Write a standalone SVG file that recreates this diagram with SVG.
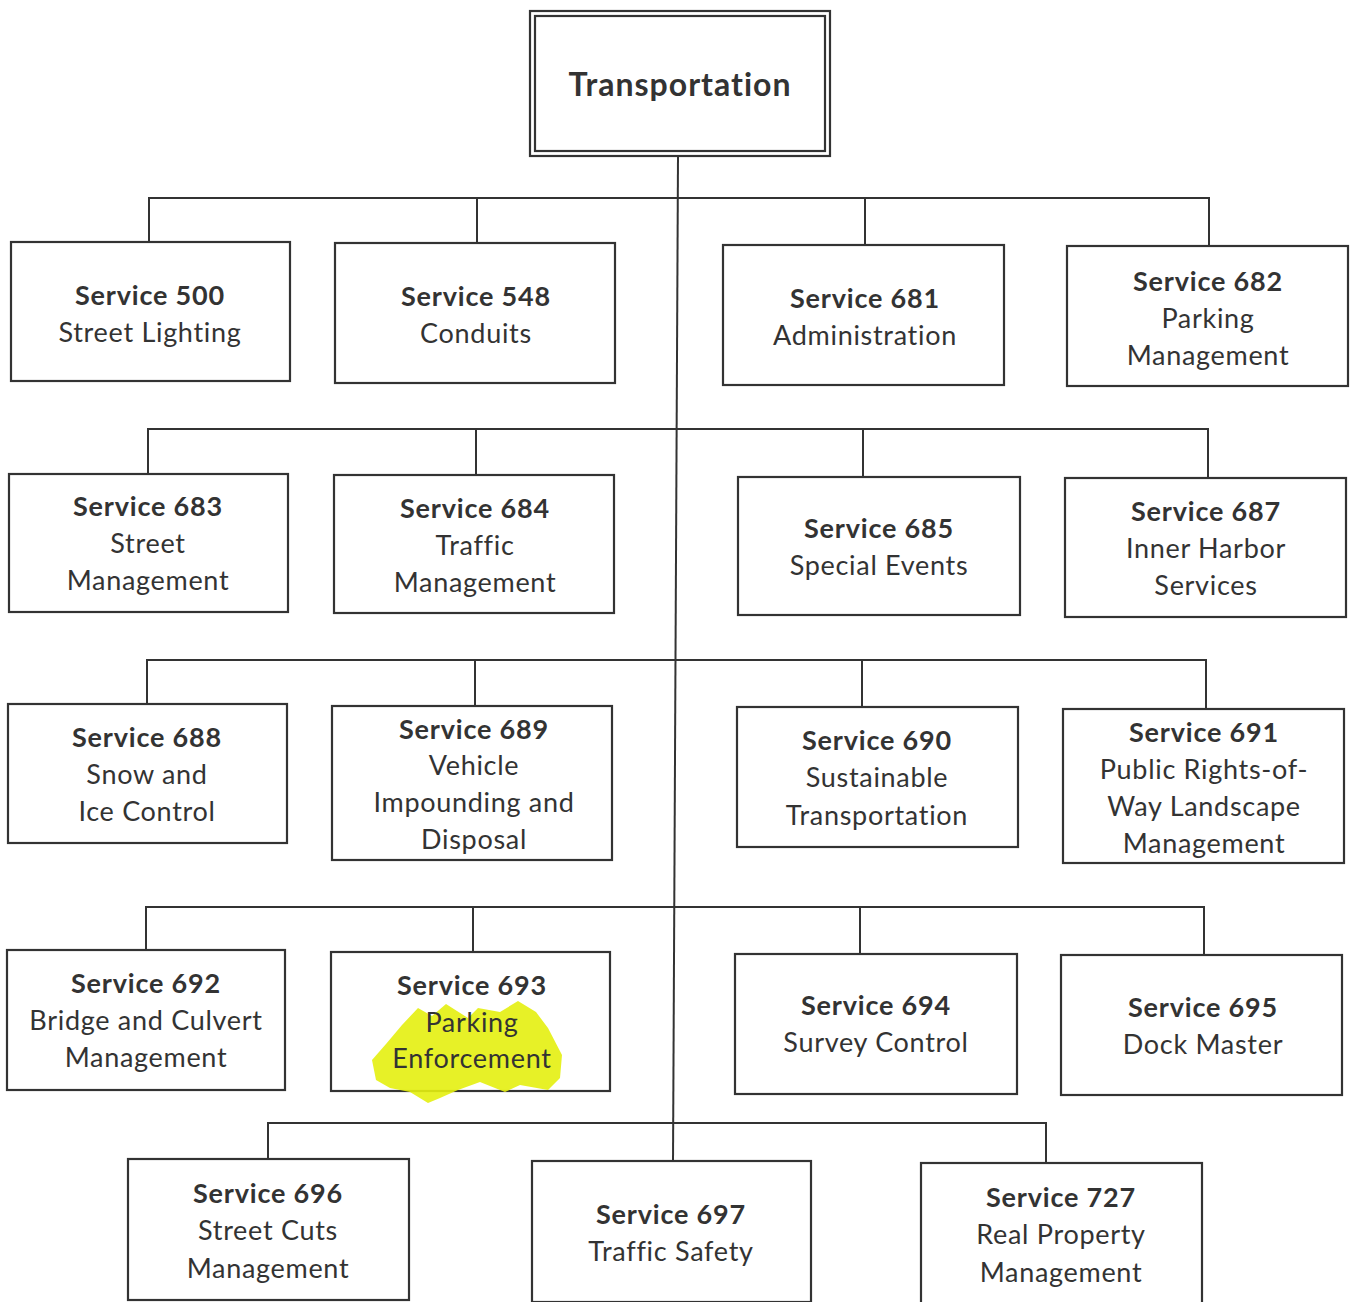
<svg xmlns="http://www.w3.org/2000/svg" width="1354" height="1302" viewBox="0 0 1354 1302">
<style>
.box{fill:#fff;stroke:#333;stroke-width:2.2}
.ln{stroke:#333;stroke-width:2;fill:none}
text{font-family:Lato,"Liberation Sans",sans-serif;font-size:27px;letter-spacing:0.7px;fill:#333;text-anchor:middle}
.b{font-weight:bold;letter-spacing:0.8px}
.t{font-weight:bold;font-size:32px;letter-spacing:1px}
.hl{fill:#e4ef10;opacity:0.9}
</style>
<rect width="1354" height="1302" fill="#fff"/>
<g id="connectors">
<path class="ln" d="M678 156 L673 1161"/>
<path class="ln" d="M149 242 V198 H1209 V246 M477 198 V243 M865 198 V245"/>
<path class="ln" d="M148 474 V429 H1208 V478 M476 429 V475 M863 429 V477"/>
<path class="ln" d="M147 704 V660 H1206 V709 M475 660 V706 M862 660 V707"/>
<path class="ln" d="M146 950 V907 H1204 V955 M473 907 V952 M860 907 V954"/>
<path class="ln" d="M268 1159 V1123 H1046 V1163"/>
</g>
<g id="root">
<rect class="box" x="530" y="11" width="300" height="145"/>
<rect class="box" x="535" y="16" width="290" height="135"/>
<text class="t" x="680" y="96">Transportation</text>
</g>
<g id="s500"><rect class="box" x="11" y="242" width="279" height="139"/><text class="b" x="150" y="305">Service 500</text><text x="150" y="342">Street Lighting</text></g>
<g id="s548"><rect class="box" x="335" y="243" width="280" height="140"/><text class="b" x="476" y="306">Service 548</text><text x="476" y="343">Conduits</text></g>
<g id="s681"><rect class="box" x="723" y="245" width="281" height="140"/><text class="b" x="865" y="308">Service 681</text><text x="865" y="345">Administration</text></g>
<g id="s682"><rect class="box" x="1067" y="246" width="281" height="140"/><text class="b" x="1208" y="291">Service 682</text><text x="1208" y="328">Parking</text><text x="1208" y="365">Management</text></g>
<g id="s683"><rect class="box" x="9" y="474" width="279" height="138"/><text class="b" x="148" y="516">Service 683</text><text x="148" y="553">Street</text><text x="148" y="590">Management</text></g>
<g id="s684"><rect class="box" x="334" y="475" width="280" height="138"/><text class="b" x="475" y="518">Service 684</text><text x="475" y="555">Traffic</text><text x="475" y="592">Management</text></g>
<g id="s685"><rect class="box" x="738" y="477" width="282" height="138"/><text class="b" x="879" y="538">Service 685</text><text x="879" y="575">Special Events</text></g>
<g id="s687"><rect class="box" x="1065" y="478" width="281" height="139"/><text class="b" x="1206" y="521">Service 687</text><text x="1206" y="558">Inner Harbor</text><text x="1206" y="595">Services</text></g>
<g id="s688"><rect class="box" x="8" y="704" width="279" height="139"/><text class="b" x="147" y="747">Service 688</text><text x="147" y="784">Snow and</text><text x="147" y="821">Ice Control</text></g>
<g id="s689"><rect class="box" x="332" y="706" width="280" height="154"/><text class="b" x="474" y="739">Service 689</text><text x="474" y="775">Vehicle</text><text x="474" y="812">Impounding and</text><text x="474" y="849">Disposal</text></g>
<g id="s690"><rect class="box" x="737" y="707" width="281" height="140"/><text class="b" x="877" y="750">Service 690</text><text x="877" y="787">Sustainable</text><text x="877" y="825">Transportation</text></g>
<g id="s691"><rect class="box" x="1063" y="709" width="281" height="154"/><text class="b" x="1204" y="742">Service 691</text><text x="1204" y="779">Public Rights-of-</text><text x="1204" y="816">Way Landscape</text><text x="1204" y="853">Management</text></g>
<g id="s692"><rect class="box" x="7" y="950" width="278" height="140"/><text class="b" x="146" y="993">Service 692</text><text x="146" y="1030">Bridge and Culvert</text><text x="146" y="1067">Management</text></g>
<g id="s693"><rect class="box" x="331" y="952" width="279" height="139"/>
<path class="hl" d="M402 1025 L418 1008 L432 1016 L446 1004 L468 1018 L478 1008 L500 1012 L518 1001 L536 1012 L548 1028 L562 1055 L560 1078 L548 1090 L520 1085 L505 1092 L480 1082 L458 1090 L440 1098 L428 1103 L410 1092 L390 1088 L376 1080 L372 1060 L386 1044 Z"/>
<text class="b" x="472" y="995">Service 693</text><text x="472" y="1032">Parking</text><text x="472" y="1068">Enforcement</text></g>
<g id="s694"><rect class="box" x="735" y="954" width="282" height="140"/><text class="b" x="876" y="1015">Service 694</text><text x="876" y="1052">Survey Control</text></g>
<g id="s695"><rect class="box" x="1061" y="955" width="281" height="140"/><text class="b" x="1203" y="1017">Service 695</text><text x="1203" y="1054">Dock Master</text></g>
<g id="s696"><rect class="box" x="128" y="1159" width="281" height="141"/><text class="b" x="268" y="1203">Service 696</text><text x="268" y="1240">Street Cuts</text><text x="268" y="1278">Management</text></g>
<g id="s697"><rect class="box" x="532" y="1161" width="279" height="141"/><text class="b" x="671" y="1224">Service 697</text><text x="671" y="1261">Traffic Safety</text></g>
<g id="s727"><rect class="box" x="921" y="1163" width="281" height="141"/><text class="b" x="1061" y="1207">Service 727</text><text x="1061" y="1244">Real Property</text><text x="1061" y="1282">Management</text></g>
</svg>
